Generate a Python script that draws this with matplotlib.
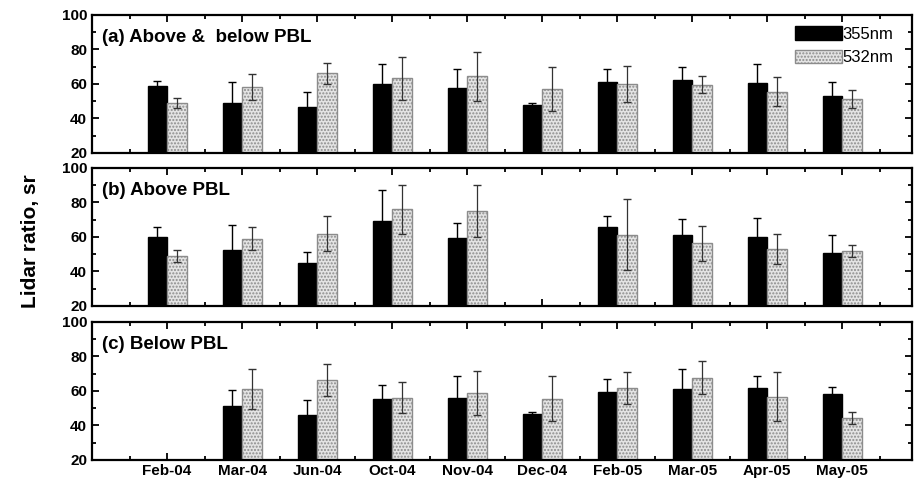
import numpy as np
import matplotlib
matplotlib.use('Agg')
import matplotlib.pyplot as plt

plt.rcParams['font.family'] = ['Liberation Sans', 'DejaVu Sans']

months = ['Feb-04', 'Mar-04', 'Jun-04', 'Oct-04', 'Nov-04',
          'Dec-04', 'Feb-05', 'Mar-05', 'Apr-05', 'May-05']
titles = ['(a) Above &  below PBL', '(b) Above PBL', '(c) Below PBL']

nan = np.nan
# lidar ratio (sr) and upper error bar end
a355 = [59.0, 49.0, 46.4, 60.1, 57.6, 47.8, 61.1, 62.2, 60.5, 52.8]
a355_top = [61.8, 60.9, 55.1, 71.5, 68.4, 48.8, 68.8, 69.6, 71.5, 60.9]
a532 = [49.0, 58.2, 66.3, 63.4, 64.4, 57.0, 60.1, 59.5, 55.5, 51.3]
a532_top = [51.8, 65.9, 72.4, 75.9, 78.8, 69.6, 70.7, 64.4, 64.0, 56.6]

b355 = [59.8, 52.3, 44.9, 69.1, 59.4, nan, 66.0, 61.0, 59.8, 50.9]
b355_top = [65.8, 67.0, 51.3, 87.4, 68.1, nan, 72.0, 70.6, 71.2, 61.0]
b532 = [49.0, 59.0, 61.9, 76.0, 75.0, nan, 61.4, 56.3, 52.9, 51.9]
b532_top = [52.7, 65.8, 72.0, 90.3, 90.0, nan, 82.2, 66.6, 61.5, 55.2]

c355 = [nan, 51.0, 46.2, 55.2, 56.2, 46.5, 59.2, 61.2, 61.9, 58.3]
c355_top = [nan, 60.4, 54.8, 63.7, 68.7, 47.7, 66.9, 72.7, 68.8, 62.1]
c532 = [nan, 61.0, 66.2, 56.2, 59.0, 55.6, 61.7, 67.7, 56.7, 44.6]
c532_top = [nan, 72.5, 75.4, 65.4, 71.7, 68.7, 70.8, 77.3, 70.8, 48.1]

panels = [(a355, a355_top, a532, a532_top),
          (b355, b355_top, b532, b532_top),
          (c355, c355_top, c532, c532_top)]

fig = plt.figure(figsize=(9.14, 4.82), dpi=100)
tops = [0.9689, 0.6515, 0.3320]
h = 0.2863
x = np.arange(len(months))
w = 0.26

for k, (v1, t1, v2, t2) in enumerate(panels):
    ax = fig.add_axes([0.1007, tops[k] - h, 0.8971, h])
    v1 = np.array(v1); t1 = np.array(t1)
    v2 = np.array(v2); t2 = np.array(t2)
    m1 = ~np.isnan(v1)
    m2 = ~np.isnan(v2)
    ax.bar(x[m1] - w / 2, v1[m1] - 20, w, bottom=20, color='black',
           edgecolor='black', label='355nm', zorder=2)
    ax.bar(x[m2] + w / 2, v2[m2] - 20, w, bottom=20, color='#e4e4e4',
           edgecolor='#8c8c8c', hatch='.....', linewidth=1.0,
           label='532nm', zorder=2)
    e1 = t1[m1] - v1[m1]
    e2 = t2[m2] - v2[m2]
    ax.errorbar(x[m1] - w / 2, v1[m1], yerr=e1, fmt='none', ecolor='black',
                elinewidth=1, capsize=3, capthick=1, zorder=1)
    ax.errorbar(x[m2] + w / 2, v2[m2], yerr=e2, fmt='none', ecolor='#333333',
                elinewidth=0.9, capsize=3, capthick=1, zorder=3)

    ax.set_xlim(-1.0, 9.93)
    ax.set_ylim(20, 100)
    ax.set_yticks([20, 40, 60, 80, 100])
    ax.set_yticks([30, 50, 70, 90], minor=True)
    ax.set_xticks(x)
    ax.set_xticks(np.arange(-0.5, 10, 1.0), minor=True)
    ax.tick_params(which='both', direction='in', top=True, right=True,
                   width=1.3, labelsize=11)
    ax.tick_params(which='major', length=5)
    ax.tick_params(which='minor', length=3)
    for lab in ax.get_yticklabels():
        lab.set_fontweight('bold')
    if k == 2:
        ax.set_xticklabels(months, fontweight='bold', fontsize=11)
        ax.tick_params(axis='x', pad=3)
    else:
        ax.set_xticklabels([])
    for s in ax.spines.values():
        s.set_linewidth(1.6)
    ax.text(0.012, 0.9, titles[k], transform=ax.transAxes, fontsize=13.5,
            fontweight='bold', va='top', ha='left')
    if k == 0:
        ax.legend(loc='upper right', bbox_to_anchor=(0.99, 0.99), frameon=False,
                  fontsize=12, handlelength=2.8, handleheight=0.9,
                  handletextpad=0.05, labelspacing=0.45, borderaxespad=0.2)

fig.text(0.033, 0.5, 'Lidar ratio, sr', rotation=90, fontsize=15,
         fontweight='bold', ha='center', va='center')

fig.savefig('out.png', dpi=100)
